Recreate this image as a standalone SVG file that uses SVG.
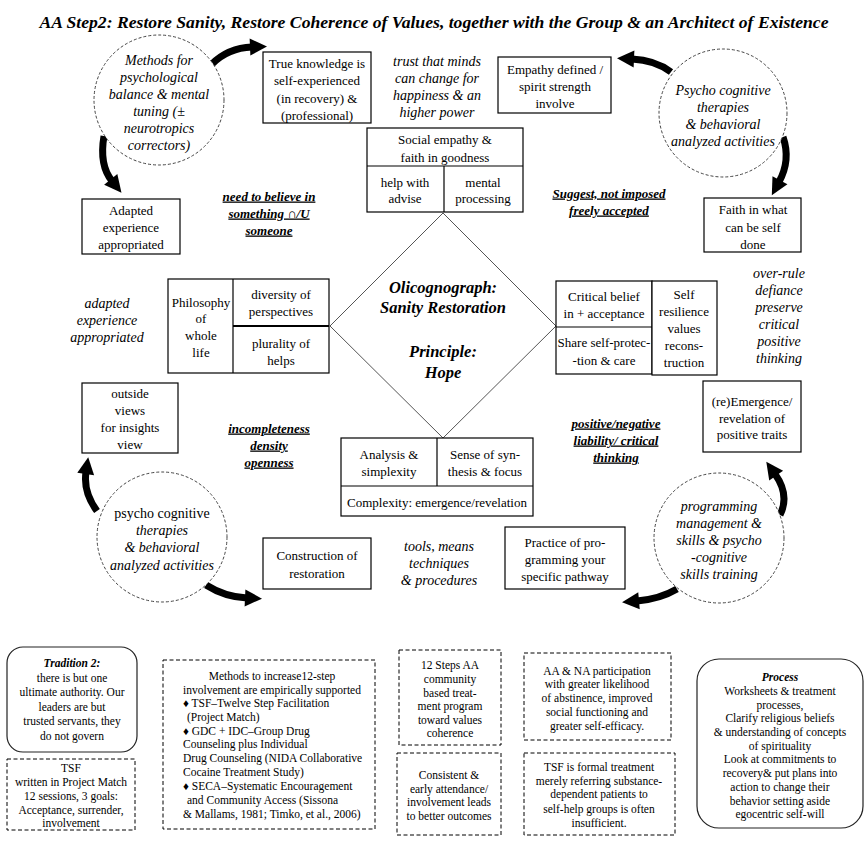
<svg xmlns="http://www.w3.org/2000/svg" width="868" height="841" viewBox="0 0 868 841">
<style>
text{font-family:"Liberation Serif","Times New Roman",serif;fill:#000;text-anchor:middle;font-size:13px}
.bx{fill:#fff;stroke:#000;stroke-width:1.2}
.ln{stroke:#000;stroke-width:1.2}
.cir{fill:#fff;stroke:#444;stroke-width:1;stroke-dasharray:3 2}
.dsh{fill:#fff;stroke:#000;stroke-width:1;stroke-dasharray:4 2.5}
.rnd{fill:#fff;stroke:#222;stroke-width:1.2}
.i{font-style:italic;font-size:14px}
.bu{font-weight:bold;font-style:italic;text-decoration:underline;font-size:13px}
.bi{font-weight:bold;font-style:italic}
.dm{font-weight:bold;font-style:italic;font-size:16.5px}
.s{font-size:11.5px}
.l{text-anchor:start}
.arr{fill:none;stroke:#000;stroke-width:7;marker-end:url(#ah)}
</style>
<defs>
<marker id="ah" markerUnits="userSpaceOnUse" markerWidth="22" markerHeight="22" viewBox="0 -11 20 22" refX="2" refY="0" orient="auto">
<path d="M0,-8.5 L17,0 L0,8.5 z" fill="#000"/>
</marker>
</defs>
<text x="434" y="28" class="bi" style="font-size:17px" textLength="789" lengthAdjust="spacingAndGlyphs">AA Step2: Restore Sanity, Restore Coherence of Values, together with the Group &amp; an Architect of Existence</text>

<g id="connectors">
<path class="arr" d="M212,64 Q228,48 252,47"/>
<path class="arr" d="M104,136 Q99,165 112,181"/>
<path class="arr" d="M671,72 Q655,60 632,59"/>
<path class="arr" d="M783,137 Q791,160 779,182"/>
<path class="arr" d="M97,511 Q83,492 86,472"/>
<path class="arr" d="M206,585 Q225,597 247,598"/>
<path class="arr" d="M780,515 Q790,495 775,474"/>
<path class="arr" d="M677,589 Q660,599 637,601"/>
</g>

<g id="diamond">
<polygon points="443,213 556,326 443,438 330,326" fill="#fff" stroke="#555" stroke-width="1"/>
<text x="443" y="293" class="dm">Olicognograph:</text>
<text x="443" y="313" class="dm">Sanity Restoration</text>
<text x="443" y="357" class="dm">Principle:</text>
<text x="443" y="378" class="dm">Hope</text>
</g>

<g id="circle-methods">
<circle cx="159" cy="100" r="65" class="cir"/>
<text x="159" y="65" class="i">Methods for</text>
<text x="159" y="82" class="i">psychological</text>
<text x="159" y="99" class="i">balance &amp; mental</text>
<text x="159" y="116" class="i">tuning (±</text>
<text x="159" y="133" class="i">neurotropics</text>
<text x="159" y="150" class="i">correctors)</text>
</g>

<g id="circle-psycho-top">
<circle cx="723" cy="113" r="64" class="cir"/>
<text x="723" y="95" class="i">Psycho cognitive</text>
<text x="723" y="112" class="i">therapies</text>
<text x="723" y="129" class="i">&amp; behavioral</text>
<text x="723" y="146" class="i">analyzed activities</text>
</g>

<g id="circle-psycho-bottom">
<circle cx="162" cy="537" r="65" class="cir"/>
<text x="162" y="518" style="font-size:14px">psycho cognitive</text>
<text x="162" y="535" class="i">therapies</text>
<text x="162" y="552" class="i">&amp; behavioral</text>
<text x="162" y="570" class="i">analyzed activities</text>
</g>

<g id="circle-programming">
<circle cx="719" cy="538" r="65" class="cir"/>
<text x="719" y="511" class="i">programming</text>
<text x="719" y="528" class="i">management &amp;</text>
<text x="719" y="545" class="i">skills &amp; psycho</text>
<text x="719" y="562" class="i">-cognitive</text>
<text x="719" y="579" class="i">skills training</text>
</g>

<g id="true-knowledge">
<rect x="263" y="52" width="108" height="71" class="bx"/>
<text x="317" y="67.5">True knowledge is</text>
<text x="317" y="84.5">self-experienced</text>
<text x="317" y="102.5">(in recovery) &amp;</text>
<text x="317" y="119.5">(professional)</text>
</g>

<g id="adapted-box">
<rect x="82" y="199" width="98" height="55" class="bx"/>
<text x="131" y="214.5">Adapted</text>
<text x="131" y="231.5">experience</text>
<text x="131" y="248.5">appropriated</text>
</g>

<g id="social-empathy">
<rect x="367" y="128" width="156" height="84" class="bx"/>
<line x1="367" y1="166" x2="523" y2="166" class="ln"/>
<line x1="444" y1="166" x2="444" y2="212" class="ln"/>
<text x="445" y="143.5">Social empathy &amp;</text>
<text x="445" y="161.5">faith in goodness</text>
<text x="405" y="186.5">help with</text>
<text x="405" y="202.5">advise</text>
<text x="483" y="186.5">mental</text>
<text x="483" y="202.5">processing</text>
</g>

<g id="empathy-defined">
<rect x="498" y="57" width="113" height="56" class="bx"/>
<text x="555" y="73.5">Empathy defined /</text>
<text x="555" y="90.5">spirit strength</text>
<text x="555" y="107.5">involve</text>
</g>

<g id="faith-box">
<rect x="704" y="198" width="97" height="54" class="bx"/>
<text x="753" y="213.5">Faith in what</text>
<text x="753" y="231.5">can be self</text>
<text x="753" y="248.5">done</text>
</g>

<g id="philosophy">
<rect x="168" y="279" width="161" height="94" class="bx"/>
<line x1="233" y1="279" x2="233" y2="373" class="ln"/>
<line x1="233" y1="326" x2="329" y2="326" stroke="#000" stroke-width="2"/>
<text x="201" y="306.5">Philosophy</text>
<text x="201" y="322.5">of</text>
<text x="201" y="339.5">whole</text>
<text x="201" y="356.5">life</text>
<text x="281" y="298.5">diversity of</text>
<text x="281" y="315.5">perspectives</text>
<text x="281" y="347.5">plurality of</text>
<text x="281" y="364.5">helps</text>
</g>

<g id="critical-belief">
<rect x="556" y="281" width="96" height="93" class="bx"/>
<line x1="556" y1="327" x2="652" y2="327" class="ln"/>
<rect x="652" y="281" width="65" height="94" class="bx"/>
<text x="604" y="300.5">Critical  belief</text>
<text x="604" y="317.5">in + acceptance</text>
<text x="604" y="346.5">Share self-protec-</text>
<text x="604" y="364.5">-tion &amp; care</text>
<text x="684" y="298.5">Self</text>
<text x="684" y="315.5">resilience</text>
<text x="684" y="332.5">values</text>
<text x="684" y="349.5">recons-</text>
<text x="684" y="366.5">truction</text>
</g>

<g id="outside-views">
<rect x="82" y="383" width="96" height="70" class="bx"/>
<text x="130" y="397.5">outside</text>
<text x="130" y="414.5">views</text>
<text x="130" y="431.5">for insights</text>
<text x="130" y="448.5">view</text>
</g>

<g id="analysis">
<rect x="341" y="438" width="192" height="78" class="bx"/>
<line x1="341" y1="486" x2="533" y2="486" class="ln"/>
<line x1="437" y1="438" x2="437" y2="486" class="ln"/>
<text x="389" y="458.5">Analysis &amp;</text>
<text x="389" y="475.5">simplexity</text>
<text x="485" y="458.5">Sense of syn-</text>
<text x="485" y="475.5">thesis &amp; focus</text>
<text x="437" y="506.5">Complexity: emergence/revelation</text>
</g>

<g id="re-emergence">
<rect x="703" y="381" width="98" height="71" class="bx"/>
<text x="752" y="405.5">(re)Emergence/</text>
<text x="752" y="422.5">revelation of</text>
<text x="752" y="438.5">positive traits</text>
</g>

<g id="construction">
<rect x="263" y="538" width="108" height="51" class="bx"/>
<text x="317" y="559.5">Construction of</text>
<text x="317" y="577.5">restoration</text>
</g>

<g id="practice">
<rect x="505" y="527" width="120" height="62" class="bx"/>
<text x="565" y="546.5">Practice of pro-</text>
<text x="565" y="563.5">gramming your</text>
<text x="565" y="580.5">specific pathway</text>
</g>

<g id="labels">
<text x="437" y="66" class="i">trust that minds</text>
<text x="437" y="83" class="i">can change for</text>
<text x="437" y="100" class="i">happiness &amp; an</text>
<text x="437" y="117" class="i">higher power</text>
<text x="107" y="308" class="i">adapted</text>
<text x="107" y="325" class="i">experience</text>
<text x="107" y="342" class="i">appropriated</text>
<text x="779" y="278" class="i">over-rule</text>
<text x="779" y="295" class="i">defiance</text>
<text x="779" y="312" class="i">preserve</text>
<text x="779" y="329" class="i">critical</text>
<text x="779" y="346" class="i">positive</text>
<text x="779" y="363" class="i">thinking</text>
<text x="439" y="551" class="i">tools, means</text>
<text x="439" y="568" class="i">techniques</text>
<text x="439" y="585" class="i">&amp; procedures</text>
<text x="269" y="200.5" class="bu">need to believe in</text>
<text x="269" y="217.5" class="bu">something ∩/U</text>
<text x="269" y="234.5" class="bu">someone</text>
<text x="609" y="197.5" class="bu">Suggest, not imposed</text>
<text x="609" y="214.5" class="bu">freely accepted</text>
<text x="269" y="432.5" class="bu">incompleteness</text>
<text x="269" y="449.5" class="bu">density</text>
<text x="269" y="466.5" class="bu">openness</text>
<text x="616" y="427.5" class="bu">positive/negative</text>
<text x="616" y="444.5" class="bu">liability/ critical</text>
<text x="616" y="461.5" class="bu">thinking</text>
</g>

<g id="tradition">
<rect x="7" y="647" width="130" height="105" rx="16" class="rnd"/>
<text x="72" y="667" class="s bi">Tradition 2:</text>
<text x="72" y="681.5" class="s">there is but one</text>
<text x="72" y="696" class="s">ultimate authority. Our</text>
<text x="72" y="710.5" class="s">leaders are but</text>
<text x="72" y="725" class="s">trusted servants, they</text>
<text x="72" y="739.5" class="s">do not govern</text>
</g>

<g id="tsf-box">
<rect x="7" y="759" width="128" height="71" class="dsh"/>
<text x="71" y="772" class="s">TSF</text>
<text x="71" y="786" class="s">written in Project Match</text>
<text x="71" y="800" class="s">12 sessions, 3 goals:</text>
<text x="71" y="814" class="s">Acceptance, surrender,</text>
<text x="71" y="827" class="s">involvement</text>
</g>

<g id="methods-box">
<rect x="163" y="660" width="212" height="169" class="dsh"/>
<text x="272" y="680" class="s">Methods to increase12-step</text>
<text x="272" y="694" class="s">involvement are empirically supported</text>
<text x="183" y="707" class="s l">♦ TSF–Twelve Step Facilitation</text>
<text x="187" y="721" class="s l">(Project Match)</text>
<text x="183" y="735" class="s l">♦ GDC + IDC–Group Drug</text>
<text x="183" y="748" class="s l">Counseling plus Individual</text>
<text x="183" y="762" class="s l">Drug Counseling (NIDA Collaborative</text>
<text x="183" y="776" class="s l">Cocaine Treatment Study)</text>
<text x="183" y="790" class="s l">♦ SECA–Systematic Encouragement</text>
<text x="187" y="804" class="s l">and Community Access (Sissona</text>
<text x="183" y="818" class="s l">&amp; Mallams,  1981;  Timko, et al., 2006)</text>
</g>

<g id="steps-box">
<rect x="399" y="650" width="102" height="95" class="dsh"/>
<text x="450" y="669" class="s">12 Steps AA</text>
<text x="450" y="683" class="s">community</text>
<text x="450" y="697" class="s">based treat-</text>
<text x="450" y="710" class="s">ment program</text>
<text x="450" y="724" class="s">toward values</text>
<text x="450" y="737" class="s">coherence</text>
</g>

<g id="consistent-box">
<rect x="397" y="753" width="104" height="82" class="dsh"/>
<text x="449" y="779" class="s">Consistent &amp;</text>
<text x="449" y="793" class="s">early attendance/</text>
<text x="449" y="806" class="s">involvement leads</text>
<text x="449" y="820" class="s">to better outcomes</text>
</g>

<g id="aana-box">
<rect x="524" y="653" width="147" height="87" class="dsh"/>
<text x="597" y="675" class="s">AA &amp; NA participation</text>
<text x="597" y="688" class="s">with greater likelihood</text>
<text x="597" y="702" class="s">of abstinence, improved</text>
<text x="597" y="716" class="s">social functioning and</text>
<text x="597" y="730" class="s">greater self-efficacy.</text>
</g>

<g id="tsf-formal-box">
<rect x="524" y="753" width="151" height="82" class="dsh"/>
<text x="599" y="771" class="s">TSF is formal treatment</text>
<text x="599" y="785" class="s">merely referring substance-</text>
<text x="599" y="798" class="s">dependent patients to</text>
<text x="599" y="813" class="s">self-help groups is often</text>
<text x="599" y="827" class="s">insufficient.</text>
</g>

<g id="process">
<rect x="697" y="659" width="166" height="169" rx="22" class="rnd"/>
<text x="780" y="681" class="s bi">Process</text>
<text x="780" y="695" class="s">Worksheets &amp; treatment</text>
<text x="780" y="709" class="s">processes,</text>
<text x="780" y="722" class="s">Clarify religious beliefs</text>
<text x="780" y="736" class="s">&amp; understanding of concepts</text>
<text x="780" y="750" class="s">of spirituality</text>
<text x="780" y="763" class="s">Look at commitments to</text>
<text x="780" y="777" class="s">recovery&amp; put plans into</text>
<text x="780" y="791" class="s">action to change their</text>
<text x="780" y="805" class="s">behavior setting aside</text>
<text x="780" y="818" class="s">egocentric self-will</text>
</g>
</svg>
